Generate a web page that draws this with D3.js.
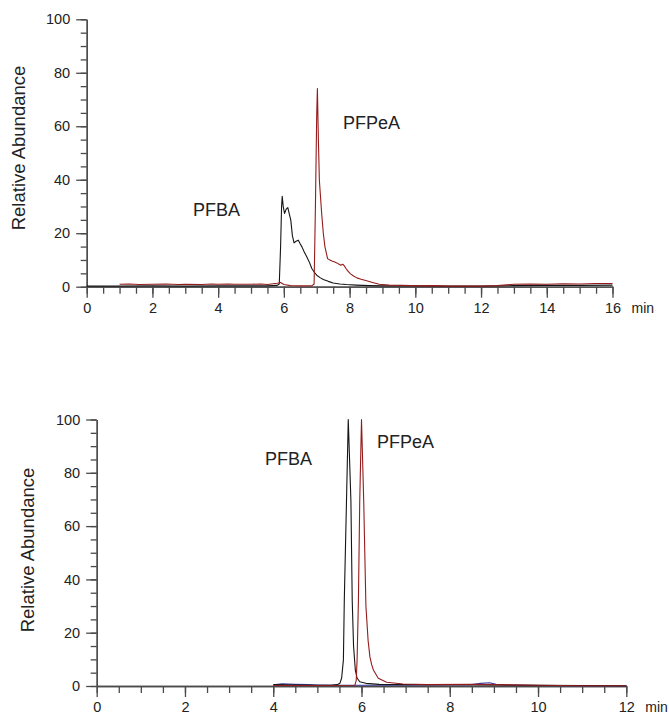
<!DOCTYPE html>
<html>
<head>
<meta charset="utf-8">
<script src="https://cdn.jsdelivr.net/npm/d3@7"></script>
<style>
  html, body { margin: 0; padding: 0; background: #fff; }
  svg text { font-family: "Liberation Sans", Arial, sans-serif; fill: #222; }
</style>
</head>
<body>
<div id="chart"></div>
<script>
// ---- data: [time (min), relative abundance] ----
var yTicks = [0, 20, 40, 60, 80, 100];
var topXTicks = [0, 2, 4, 6, 8, 10, 12, 14, 16];
var bottomXTicks = [0, 2, 4, 6, 8, 10, 12];

var topPFBA = [
  [0, 0.2], [1, 0.2], [2, 0.3], [3, 0.2], [4, 0.3], [5, 0.3], [5.5, 0.3], [5.8, 0.5],
  [5.86, 1.0], [5.9, 15], [5.93, 30], [5.95, 33.8], [5.98, 30], [6.02, 27.4], [6.07, 29],
  [6.12, 29.6], [6.17, 27], [6.21, 24.9], [6.26, 19], [6.31, 16.4], [6.37, 17], [6.44, 17.4],
  [6.5, 16], [6.55, 14.9], [6.62, 13], [6.7, 11.1], [6.78, 9], [6.85, 6.8], [6.92, 5.5],
  [7.0, 4.3], [7.1, 3.4], [7.2, 2.7], [7.35, 2], [7.5, 1.4], [7.7, 1.0], [7.9, 0.8],
  [8.2, 0.6], [8.6, 0.4], [9, 0.3], [10, 0.3], [11, 0.2], [12, 0.2], [13, 0.4],
  [14, 0.5], [15, 0.5], [16, 0.6]
];
var topPFPeA = [
  [1.0, 0.9], [1.3, 1.0], [1.6, 0.8], [2, 0.9], [2.4, 1.0], [2.8, 0.8], [3, 0.9], [3.5, 0.8],
  [3.8, 1.0], [4, 0.9], [4.3, 1.0], [4.5, 0.9], [5, 0.9], [5.3, 1.0], [5.5, 0.8], [5.8, 1.3],
  [5.9, 1.6], [6.0, 0.8], [6.2, 0.4], [6.5, 0.3], [6.85, 0.3], [6.92, 1], [6.96, 30],
  [7.0, 65], [7.02, 74.1], [7.05, 55], [7.08, 39.8], [7.15, 27.4], [7.2, 20], [7.25, 14.9],
  [7.33, 10.5], [7.4, 10], [7.46, 9.6], [7.55, 9.2], [7.61, 8.9], [7.73, 8.0], [7.79, 8.4],
  [7.84, 7.8], [7.89, 6.8], [7.95, 5.8], [8.02, 4.9], [8.12, 4.0], [8.22, 3.3], [8.35, 2.8],
  [8.52, 2.2], [8.7, 1.6], [8.9, 0.9], [9.2, 0.6], [9.6, 0.5], [10.1, 0.3], [10.5, 0.4],
  [11, 0.2], [11.5, 0.2], [12, 0.2], [12.5, 0.4], [13, 0.9], [13.5, 1.0], [14, 0.9],
  [14.5, 1.1], [15, 1.0], [15.5, 1.2], [16, 1.2]
];

var bottomPFBA = [
  [4.0, 0.5], [4.5, 0.4], [5.0, 0.3], [5.3, 0.3], [5.45, 0.5], [5.51, 1], [5.55, 3],
  [5.59, 9.8], [5.61, 32], [5.66, 69.5], [5.70, 100], [5.76, 69.5], [5.79, 32], [5.82, 15],
  [5.86, 6], [5.9, 3], [5.96, 1.6], [6.1, 1.0], [6.4, 0.6], [7, 0.5], [8, 0.5], [9, 0.4],
  [10, 0.3], [11, 0.2], [12, 0.1]
];
var bottomPFPeA = [
  [4.0, 0.2], [5.0, 0.2], [5.85, 0.3], [5.88, 2], [5.9, 9.8], [5.93, 32], [5.96, 69.5],
  [6.0, 100], [6.05, 69.5], [6.1, 30], [6.15, 17], [6.19, 11], [6.23, 8], [6.27, 6],
  [6.38, 2.9], [6.57, 1.4], [6.94, 0.75], [7.5, 0.5], [8.5, 0.6], [9.0, 0.5], [10, 0.3],
  [11, 0.1], [12, 0.1]
];
var bottomBlue = [
  [4.05, 0.5], [4.2, 0.8], [4.5, 0.6], [4.8, 0.5], [5.0, 0.4], [5.5, 0.3], [6.5, 0.3],
  [7.5, 0.4], [8.5, 0.5], [8.7, 1.0], [8.9, 1.2], [9.05, 0.6], [9.3, 0.3], [10, 0.2],
  [11, 0.1], [12, 0.1]
];

var panels = [
  { x0: 86.7, x1: 612.5, yBot: 286.7, yTop: 19.3, xMax: 16, xTicks: topXTicks,
    titleX: 19, labelY: 148,
    series: [{ d: topPFBA, c: "#151515" }, { d: topPFPeA, c: "#951c1c" }],
    names: [{ t: "PFBA", x: 193, y: 216 }, { t: "PFPeA", x: 343, y: 128.5 }] },
  { x0: 96.7, x1: 626.3, yBot: 686, yTop: 419.5, xMax: 12, xTicks: bottomXTicks,
    titleX: 28, labelY: 550,
    series: [{ d: bottomBlue, c: "#3c3c9c" }, { d: bottomPFBA, c: "#151515" }, { d: bottomPFPeA, c: "#951c1c" }],
    names: [{ t: "PFBA", x: 265, y: 464.5 }, { t: "PFPeA", x: 377, y: 448 }] }
];

var svg = d3.select("#chart").append("svg")
  .attr("width", 669)
  .attr("height", 718);

panels.forEach(function (p) {
  var x = d3.scaleLinear().domain([0, p.xMax]).range([p.x0, p.x1]);
  var y = d3.scaleLinear().domain([0, 100]).range([p.yBot, p.yTop]);
  var g = svg.append("g");

  // minor ticks
  var minorX = d3.range(0, p.xMax + 0.01, 0.5);
  g.append("g").attr("transform", "translate(0," + p.yBot + ")")
    .call(d3.axisBottom(x).tickValues(minorX).tickSize(7).tickSizeOuter(0).tickFormat(""))
    .call(styleAxis);
  g.append("g").attr("transform", "translate(" + p.x0 + ",0)")
    .call(d3.axisLeft(y).tickValues(d3.range(0, 101, 5)).tickSize(6).tickSizeOuter(0).tickFormat(""))
    .call(styleAxis);

  // major ticks + labels
  g.append("g").attr("transform", "translate(0," + p.yBot + ")")
    .call(d3.axisBottom(x).tickValues(p.xTicks).tickSize(11).tickSizeOuter(0).tickPadding(5))
    .call(styleAxis);
  g.append("g").attr("transform", "translate(" + p.x0 + ",0)")
    .call(d3.axisLeft(y).tickValues(yTicks).tickSize(10.5).tickSizeOuter(0).tickPadding(6))
    .call(styleAxis);

  g.append("text")
    .attr("x", p.x1 + 19)
    .attr("y", p.yBot + 26)
    .style("font-size", "14px")
    .text("min");

  g.append("text")
    .attr("transform", "translate(" + p.titleX + "," + p.labelY + ") rotate(-90)")
    .attr("text-anchor", "middle")
    .attr("dy", "0.35em")
    .style("font-size", "18.5px")
    .text("Relative Abundance");

  var line = d3.line()
    .x(function (d) { return x(d[0]); })
    .y(function (d) { return y(d[1]); });

  p.series.forEach(function (s) {
    g.append("path")
      .datum(s.d)
      .attr("d", line)
      .attr("fill", "none")
      .attr("stroke", s.c)
      .attr("stroke-width", 1.1)
      .attr("stroke-linejoin", "round");
  });

  p.names.forEach(function (n) {
    g.append("text")
      .attr("x", n.x)
      .attr("y", n.y)
      .style("font-size", "18px")
      .text(n.t);
  });
});

function styleAxis(sel) {
  sel.select(".domain").attr("stroke", "#4a4a4a").attr("stroke-width", 1.3);
  sel.selectAll(".tick line").attr("stroke", "#4a4a4a").attr("stroke-width", 1.3);
  sel.selectAll(".tick text")
    .style("font-size", "14.5px")
    .style("font-family", "'Liberation Sans', Arial, sans-serif")
    .attr("fill", "#222");
}
</script>
</body>
</html>
